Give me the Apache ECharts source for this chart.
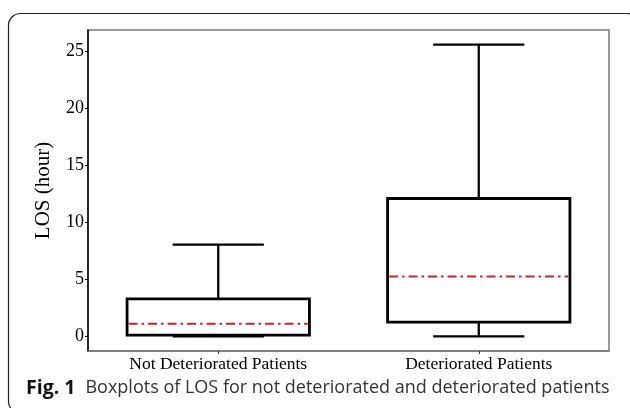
<!DOCTYPE html>
<html>
<head>
<meta charset="utf-8">
<script src="https://cdn.jsdelivr.net/npm/echarts@6/dist/echarts.min.js"></script>
<style>
  html, body { margin: 0; padding: 0; background: #fff; }
  #chart { width: 630px; height: 408px; }
</style>
</head>
<body>
<div id="chart"></div>
<script>
// Length of stay (hours) summary statistics per patient group
const categories = ['Not Deteriorated Patients', 'Deteriorated Patients'];
const whiskerLow = [0, 0];
const quartile1 = [0.12, 1.25];
const medians = [1.1, 5.25];
const quartile3 = [3.3, 12.1];
const whiskerHigh = [8.05, 25.6];
const yTicks = [0, 5, 10, 15, 20, 25];

const boxData = categories.map((c, i) => [i, whiskerLow[i], quartile1[i], medians[i], quartile3[i], whiskerHigh[i]]);

function renderBox(params, api) {
  const idx = api.value(0);
  const band = api.size([1, 0])[0];
  const half = band * 0.35;
  const capHalf = band * 0.175;
  const pLow = api.coord([idx, api.value(1)]);
  const pQ1 = api.coord([idx, api.value(2)]);
  const pMed = api.coord([idx, api.value(3)]);
  const pQ3 = api.coord([idx, api.value(4)]);
  const pHigh = api.coord([idx, api.value(5)]);
  const cx = pMed[0];
  const black = { stroke: '#000', lineWidth: 2.3, fill: null };
  return {
    type: 'group',
    children: [
      { type: 'line', shape: { x1: cx, y1: pQ3[1], x2: cx, y2: pHigh[1] }, style: black },
      { type: 'line', shape: { x1: cx - capHalf, y1: pHigh[1], x2: cx + capHalf, y2: pHigh[1] }, style: black },
      { type: 'line', shape: { x1: cx, y1: pQ1[1], x2: cx, y2: pLow[1] }, style: black },
      { type: 'line', shape: { x1: cx - capHalf, y1: pLow[1], x2: cx + capHalf, y2: pLow[1] }, style: black },
      { type: 'rect', shape: { x: cx - half, y: pQ3[1], width: half * 2, height: pQ1[1] - pQ3[1] },
        style: { stroke: '#000', lineWidth: 2.8, fill: 'rgba(255,255,255,0)' } },
      { type: 'line', shape: { x1: cx - half + 1.5, y1: pMed[1], x2: cx + half - 1.5, y2: pMed[1] },
        style: { stroke: '#c0272d', lineWidth: 2, lineDash: [9, 4, 2.5, 4] } }
    ]
  };
}

const chart = echarts.init(document.getElementById('chart'), null, { renderer: 'canvas' });
const serif = '"Liberation Serif", "Times New Roman", serif';
const sans = '"Open Sans", "Noto Sans", sans-serif';
chart.setOption({
  animation: false,
  backgroundColor: '#fff',
  grid: { left: 88, top: 30, right: 21, bottom: 57, show: true, borderColor: '#7a7a7a', borderWidth: 1.5, backgroundColor: 'transparent' },
  xAxis: {
    type: 'category',
    data: categories,
    boundaryGap: true,
    axisLine: { show: true, onZero: false, lineStyle: { color: '#7a7a7a', width: 1.5 } },
    axisTick: { show: true, alignWithLabel: true, length: 3, lineStyle: { color: '#333' } },
    axisLabel: { color: '#000', fontFamily: serif, fontSize: 17.5, margin: 4 },
    splitLine: { show: false }
  },
  yAxis: {
    type: 'value',
    min: -1.28,
    max: 26.88,
    name: 'LOS (hour)',
    nameLocation: 'middle',
    nameGap: 34,
    nameTextStyle: { color: '#000', fontFamily: serif, fontSize: 21 },
    axisLine: { show: true, lineStyle: { color: '#000', width: 1.5 } },
    axisTick: { show: true, length: 3, customValues: yTicks, lineStyle: { color: '#000' } },
    axisLabel: { color: '#000', fontFamily: serif, fontSize: 18, margin: 4, customValues: yTicks },
    splitLine: { show: false }
  },
  series: [{
    type: 'custom',
    renderItem: renderBox,
    data: boxData,
    encode: { x: 0, y: [1, 2, 3, 4, 5] },
    clip: false
  }],
  graphic: [
    {
      type: 'rect',
      shape: { x: 8.5, y: 13.5, width: 630, height: 400, r: 12 },
      style: { fill: null, stroke: '#222', lineWidth: 1.2 },
      silent: true
    },
    {
      type: 'text',
      left: 26,
      top: 378,
      style: {
        text: '{b|Fig. 1}   {r|Boxplots of LOS for not deteriorated and deteriorated patients}',
        rich: {
          b: { fontFamily: sans, fontWeight: 'bold', fontSize: 19.5, fill: '#111' },
          r: { fontFamily: sans, fontSize: 18, fill: '#333' }
        }
      }
    }
  ]
});
</script>
</body>
</html>
